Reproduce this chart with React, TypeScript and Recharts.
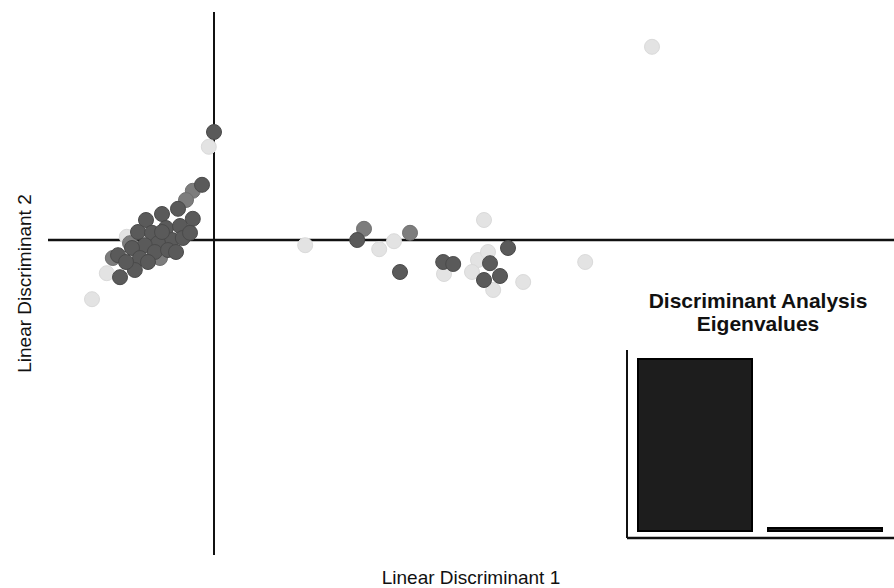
import { ScatterChart, Scatter, XAxis, YAxis, ReferenceLine, BarChart, Bar } from "recharts";

// LDA scores (LD1, LD2) for the three groups
const darkLD1 = [0.0, -0.3, -0.53, -0.9, -1.3, -1.7, -1.9, -1.55, -1.2, -0.85, -1.05, -1.4, -1.73, -2.05, -1.85, -1.48, -1.15, -0.78, -2.4, -2.35, -1.98, -2.2, -1.65, -0.95, -0.6, -1.3, 3.58, 4.65, 5.73, 5.98, 6.9, 7.15, 6.75, 7.35];
const darkLD2 = [2.7, 1.38, 0.53, 0.78, 0.65, 0.5, 0.2, 0.18, 0.3, 0.35, 0.0, -0.08, -0.13, -0.2, -0.45, -0.3, -0.25, 0.05, -0.38, -0.93, -0.75, -0.55, -0.55, -0.3, 0.18, 0.2, 0.0, -0.8, -0.55, -0.6, -0.58, -0.9, -1.0, -0.2];

const midLD1 = [-0.53, -0.7, -1.35, -2.53, -2.1, -1.48, 3.75, 4.9];
const midLD2 = [1.23, 1.0, -0.45, -0.45, -0.08, 0.0, 0.28, 0.18];

const lightLD1 = [-0.13, -2.68, -3.05, -2.18, -0.65, 10.95, 2.28, 4.13, 4.5, 6.75, 5.75, 6.6, 6.85, 6.45, 6.98, 7.73, 9.28];
const lightLD2 = [2.33, -0.83, -1.48, 0.08, 0.25, 4.83, -0.13, -0.23, -0.03, 0.5, -0.85, -0.5, -0.3, -0.8, -1.25, -1.05, -0.55];

const eigenNames = ["LD1", "LD2"];
const eigenValues = [28.4, 0.5];

const toPoints = (xs: number[], ys: number[]) => xs.map((x, i) => ({ x, y: ys[i] }));

const dot = (fill: string, stroke: string) => (p: any) => (
  <circle cx={p.cx} cy={p.cy} r={7.5} fill={fill} stroke={stroke} strokeWidth={1} />
);

const font = "'Liberation Sans', Arial, sans-serif";

export default function App() {
  const eigenData = eigenNames.map((name, i) => ({ name, value: eigenValues[i] }));

  return (
    <div style={{ position: "absolute", left: 0, top: 0, width: 894, height: 588, background: "#fff", fontFamily: font }}>
      <ScatterChart width={894} height={588} margin={{ top: 12, right: 0, bottom: 0, left: 0 }}>
        <XAxis
          type="number"
          dataKey="x"
          domain={[-4.15, 17]}
          allowDataOverflow
          height={33}
          tick={false}
          axisLine={false}
          tickLine={false}
          label={{
            content: (props: any) => {
              const vb = props.viewBox;
              return (
                <text x={vb.x + vb.width / 2} y={584} textAnchor="middle" fontSize={19} fill="#111" fontFamily={font}>
                  Linear Discriminant 1
                </text>
              );
            },
          }}
        />
        <YAxis
          type="number"
          dataKey="y"
          domain={[-7.875, 5.7]}
          allowDataOverflow
          width={48}
          tick={false}
          axisLine={false}
          tickLine={false}
          label={{
            content: (props: any) => {
              const vb = props.viewBox;
              const cy = vb.y + vb.height / 2;
              return (
                <text x={31} y={cy} transform={`rotate(-90 31 ${cy})`} textAnchor="middle" fontSize={19} fill="#111" fontFamily={font}>
                  Linear Discriminant 2
                </text>
              );
            },
          }}
        />
        <ReferenceLine x={0} stroke="#111" strokeWidth={2} />
        <ReferenceLine y={0} stroke="#111" strokeWidth={2.5} />
        <Scatter data={toPoints(lightLD1, lightLD2)} shape={dot("#e3e3e3", "#dadada")} isAnimationActive={false} />
        <Scatter data={toPoints(midLD1, midLD2)} shape={dot("#7d7d7d", "#707070")} isAnimationActive={false} />
        <Scatter data={toPoints(darkLD1, darkLD2)} shape={dot("#5a5a5a", "#4a4a4a")} isAnimationActive={false} />
      </ScatterChart>

      <div
        style={{
          position: "absolute",
          left: 620,
          top: 289,
          width: 276,
          textAlign: "center",
          fontWeight: "bold",
          fontSize: 21,
          lineHeight: "23px",
          color: "#111",
        }}
      >
        Discriminant Analysis
        <br />
        Eigenvalues
      </div>

      <div style={{ position: "absolute", left: 600, top: 340 }}>
        <BarChart width={294} height={210} data={eigenData} margin={{ top: 10, right: 0, bottom: 11, left: 26 }} barCategoryGap={8}>
          <XAxis dataKey="name" height={1} tick={false} tickLine={false} axisLine={{ stroke: "#111", strokeWidth: 2.5 }} padding={{ left: 3, right: 4 }} />
          <YAxis type="number" domain={[-1.16, 29.9]} width={1} tick={false} tickLine={false} axisLine={{ stroke: "#111", strokeWidth: 2 }} />
          <Bar dataKey="value" fill="#1d1d1d" stroke="#000" strokeWidth={2} isAnimationActive={false} />
        </BarChart>
      </div>
    </div>
  );
}
